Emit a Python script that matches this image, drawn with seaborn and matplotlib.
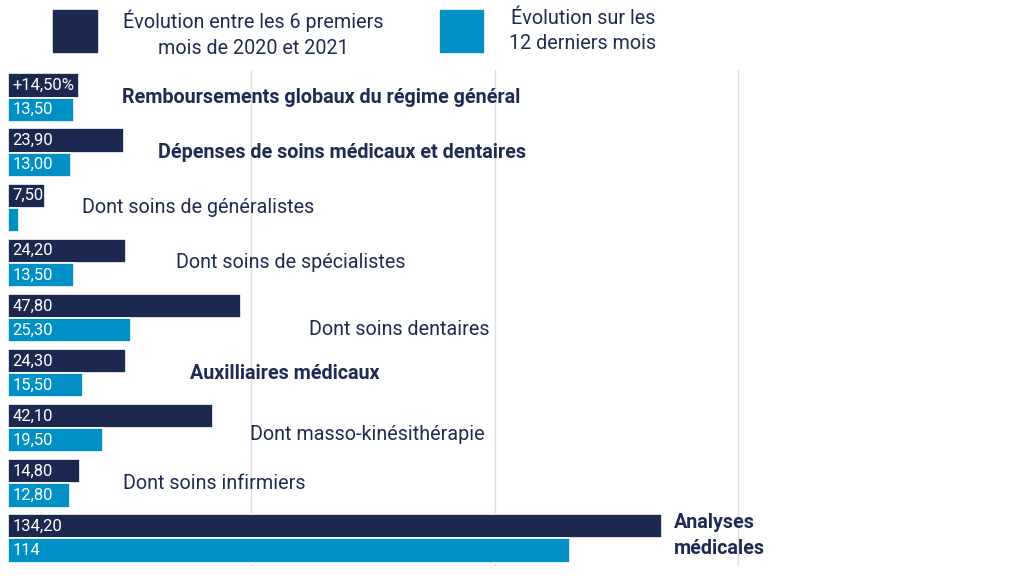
import matplotlib
matplotlib.use("Agg")
import matplotlib.pyplot as plt
from matplotlib.patches import Rectangle
import seaborn as sns
import pandas as pd

categories = [
    "Remboursements globaux du régime général",
    "Dépenses de soins médicaux et dentaires",
    "Dont soins de généralistes",
    "Dont soins de spécialistes",
    "Dont soins dentaires",
    "Auxilliaires médicaux",
    "Dont masso-kinésithérapie",
    "Dont soins infirmiers",
    "Analyses\nmédicales",
]
bold = [True, True, False, False, False, True, False, False, True]
series_names = ["Évolution entre les 6 premiers\nmois de 2020 et 2021",
                "Évolution sur les\n12 derniers mois"]
values_6m = [14.5, 23.9, 7.5, 24.2, 47.8, 24.3, 42.1, 14.8, 134.2]
values_12m = [13.5, 13.0, 2.3, 13.5, 25.3, 15.5, 19.5, 12.8, 115.4]
labels_6m = ["+14,50%", "23,90", "7,50", "24,20", "47,80", "24,30", "42,10", "14,80", "134,20"]
labels_12m = ["13,50", "13,00", "", "13,50", "25,30", "15,50", "19,50", "12,80", "114"]
# horizontal position (data units) where each category caption starts
caption_x = [23.5, 30.7, 15.2, 34.4, 61.9, 37.3, 49.6, 23.7, 136.7]
caption_dy = [0, 0, 0, 0, 0.2, 0, 0.12, 0, -0.05]

colors = ["#1b2951", "#0090c6"]
text_color = "#1f2b52"

sns.set_theme(style="white")
plt.rcParams["font.family"] = ["Roboto", "DejaVu Sans"]

df = pd.DataFrame({
    "cat": categories * 2,
    "val": values_6m + values_12m,
    "serie": [series_names[0]] * len(categories) + [series_names[1]] * len(categories),
})

fig = plt.figure(figsize=(10.24, 5.76), dpi=100)
ax = fig.add_axes([8 / 1024, 1 - 566 / 576, (980 - 8) / 1024, (566 - 70) / 576])

sns.barplot(data=df, y="cat", x="val", hue="serie", orient="h",
            palette=colors, saturation=1, width=0.88, edgecolor="white",
            linewidth=1.2, ax=ax, legend=False)

ax.set_xlim(0, 199.6)
ax.set_ylim(len(categories) - 0.5, -0.5)
ax.set_xticks([50, 100, 150])
ax.set_xticklabels([])
ax.set_yticks([])
ax.set_xlabel("")
ax.set_ylabel("")
ax.grid(axis="x", color="#dcdde3", linewidth=1)
ax.set_axisbelow(True)
for s in ax.spines.values():
    s.set_visible(False)
ax.tick_params(length=0)

for cont, labs in zip(ax.containers, [labels_6m, labels_12m]):
    for bar, lab in zip(cont, labs):
        if not lab:
            continue
        ax.annotate(lab, (bar.get_x(), bar.get_y() + bar.get_height() / 2),
                    xytext=(3, 0), textcoords="offset points",
                    ha="left", va="center", color="white", fontsize=12)

for i, (cat, b) in enumerate(zip(categories, bold)):
    ax.text(caption_x[i], i + caption_dy[i], cat, ha="left", va="center",
            fontsize=14.2, color=text_color,
            fontweight="bold" if b else "normal", linespacing=1.45)

# legend
fig.add_artist(Rectangle((53 / 1024, 1 - 52 / 576), 44 / 1024, 42 / 576,
                         transform=fig.transFigure, color=colors[0]))
fig.add_artist(Rectangle((440 / 1024, 1 - 52 / 576), 43 / 1024, 42 / 576,
                         transform=fig.transFigure, color=colors[1]))
fig.text(253 / 1024, 1 - 34 / 576, series_names[0], ha="center", va="center",
         fontsize=14.2, color=text_color, linespacing=1.45)
fig.text(583 / 1024, 1 - 31 / 576, series_names[1], ha="center", va="center",
         fontsize=14.2, color=text_color, linespacing=1.45)

fig.savefig("out.png", dpi=100)
